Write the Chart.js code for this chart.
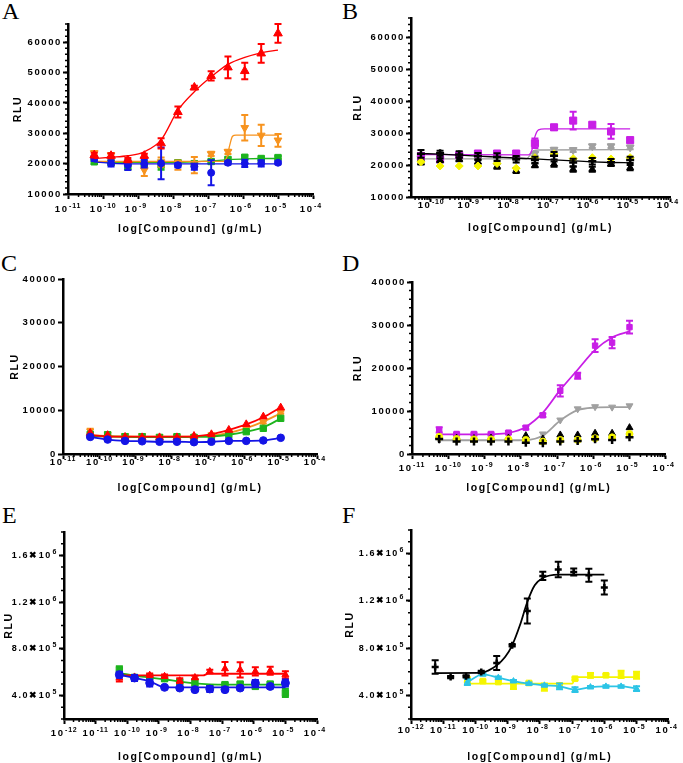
<!DOCTYPE html>
<html>
<head>
<meta charset="utf-8">
<script src="https://cdn.jsdelivr.net/npm/chart.js@4.4.1/dist/chart.umd.min.js"></script>
<style>
  body { margin: 0; background: #fff; width: 683px; height: 763px; position: relative; overflow: hidden; }
  canvas { position: absolute; }
  .letter { position: absolute; font-family: "Liberation Serif", "Times New Roman", serif; font-size: 24px; line-height: 24px; color: #000; }
</style>
</head>
<body>
<div class="letter" style="left:2px;top:-1px">A</div>
<div class="letter" style="left:342px;top:-1px">B</div>
<div class="letter" style="left:1px;top:251px">C</div>
<div class="letter" style="left:342px;top:251px">D</div>
<div class="letter" style="left:2px;top:503px">E</div>
<div class="letter" style="left:342px;top:503px">F</div>
<canvas id="cA" style="left:0;top:0"></canvas>
<canvas id="cB" style="left:340px;top:0"></canvas>
<canvas id="cC" style="left:0;top:250px"></canvas>
<canvas id="cD" style="left:340px;top:250px"></canvas>
<canvas id="cE" style="left:0;top:500px"></canvas>
<canvas id="cF" style="left:340px;top:500px"></canvas>
<script>
// log10 dose (g/mL), 3-fold dilutions
const dose = [-10.25, -9.77, -9.29, -8.82, -8.34, -7.86, -7.39, -6.91, -6.43, -5.95, -5.48, -5.0];
const doseF = [-11.25, -10.77, -10.29, -9.82, -9.34, -8.86, -8.39, -7.91, -7.43, -6.95, -6.48, -6.0];

// panel A
const aRed = [22800, 22600, 21200, 22600, 26700, 37000, 45100, 48900, 51700, 50500, 56300, 62900];
const aRedErr = [800, 800, 700, 700, 1700, 1800, 600, 1500, 3600, 2700, 3100, 3100];
const aRedFit = [21700, 22100, 22600, 23900, 27800, 37600, 43700, 48600, 52700, 55000, 56500, 57400];
const aOrange = [23500, 22800, 20200, 17900, 20500, 19500, 19500, 23200, 23900, 31800, 29300, 27700];
const aOrangeErr = [700, 700, 1000, 2000, 1500, 1500, 2700, 700, 700, 4200, 3500, 2100];
const aOrangeFitX = [-10.25, -6.55, -6.45, -6.38, -6.3, -6.2, -5.0];
const aOrangeFit = [20700, 20750, 22500, 26000, 29000, 29400, 29400];
const aGreen = [20600, 20300, 19000, 20000, 19500, 20300, 20000, 20700, 21400, 22100, 21700, 22000];
const aGreenErr = [700, 600, 900, 800, 1500, 700, 800, 600, 600, 600, 600, 500];
const aGreenFit = [20400, 20400, 20400, 20400, 20400, 20450, 20600, 20900, 21300, 21600, 21700, 21700];
const aBlue = [21700, 20100, 19500, 20000, 20100, 19500, 19000, 17000, 20300, 20100, 20100, 20300];
const aBlueErr = [800, 1000, 1600, 1300, 5200, 700, 1000, 4100, 600, 1200, 1000, 500];
const aBlueFit = [20600, 20100, 19950, 19900, 19900, 19900, 19900, 19900, 19900, 19900, 19900, 19900];

// panel B
const bMagenta = [22800, 21800, 23100, 23600, 23600, 23600, 26800, 31800, 33900, 32600, 30500, 27800];
const bMagentaErr = [1000, 700, 800, 800, 800, 700, 1500, 800, 2800, 600, 2300, 700];
const bMagentaFitX = [-10.25, -7.55, -7.47, -7.4, -7.3, -7.15, -5.0];
const bMagentaFit = [23300, 23200, 24500, 28500, 31000, 31300, 31300];
const bGray = [22000, 21800, 22200, 22000, 22300, 22100, 23500, 24800, 24700, 25900, 25900, 25500];
const bGrayErr = [600, 600, 600, 600, 600, 600, 600, 600, 600, 600, 600, 600];
const bGrayFitX = [-10.25, -7.6, -7.5, -7.42, -7.3, -5.0];
const bGrayFit = [21900, 21950, 23300, 24500, 24700, 24800];
const bBlackCross = [23500, 23700, 23300, 22800, 22500, 21800, 21600, 22900, 20800, 21200, 20900, 21600];
const bBlackCrossErr = [1200, 800, 1000, 1000, 1200, 1000, 1000, 1200, 1200, 1000, 1000, 1000];
const bBlackFit = [23600, 23400, 23100, 22800, 22500, 22200, 21900, 21600, 21300, 21000, 20800, 20700];
const bBlackTri = [20800, 21500, 21800, 21000, 19600, 18300, 19900, 20300, 18700, 18700, 20300, 19200];
const bBlackTriErr = [600, 600, 600, 600, 800, 800, 600, 800, 800, 800, 600, 800];
const bYellow = [21000, 19700, 19700, 19700, 20500, 19000, 22300, 23500, 22000, 22300, 21900, 22300];

// panel C
const cRed = [4800, 4300, 3900, 3800, 3800, 3800, 4110, 4500, 5490, 6780, 8530, 10600];
const cRedFit = [4300, 4000, 3950, 3950, 3950, 3950, 4050, 4500, 5500, 6750, 8400, 10650];
const cOrange = [5260, 4560, 4200, 4200, 3960, 3960, 3960, 4400, 4950, 5900, 7300, 9500];
const cOrangeErr = [500, 300, 300, 300, 200, 200, 200, 200, 200, 300, 300, 300];
const cOrangeFit = [4300, 4100, 4000, 3950, 3950, 3950, 4000, 4250, 4850, 5900, 7400, 9300];
const cGreen = [4500, 4400, 3960, 3960, 3800, 3960, 3800, 3960, 4420, 5100, 5870, 8150];
const cGreenFit = [4100, 4000, 3900, 3850, 3850, 3850, 3900, 4000, 4400, 5100, 6100, 8100];
const cBlue = [3900, 3300, 3000, 2900, 2800, 2800, 2700, 2800, 3000, 3000, 3100, 3700];

// panel D
const dMagenta = [5600, 4660, 4660, 4660, 4970, 6130, 9000, 14700, 18200, 25200, 25900, 29500];
const dMagentaErr = [600, 300, 300, 300, 300, 400, 400, 1300, 700, 1500, 1300, 1500];
const dMagentaFit = [4550, 4550, 4550, 4600, 4900, 6300, 9600, 14900, 19600, 24200, 27100, 28500];
const dGray = [3300, 3200, 3200, 3200, 3200, 3300, 4660, 7900, 10500, 11000, 10900, 11200];
const dGrayFit = [3200, 3200, 3200, 3200, 3200, 3250, 4300, 7800, 10200, 10800, 10900, 10900];
const dBlackTri = [4000, 3700, 3600, 3700, 3700, 4270, 3500, 4430, 4430, 4820, 4820, 6130];
const dYellow = [4000, 3500, 3400, 3400, 3400, 3260, 2880, 3260, 3260, 3650, 3880, 4660];
const dBlackCross = [3500, 2880, 2880, 2880, 2880, 2640, 2480, 2880, 3030, 3420, 3260, 3880];

// panel E
const eRed = [550000, 560000, 575000, 565000, 528000, 555000, 607000, 630000, 621000, 607000, 613000, 579000];
const eRedErr = [30000, 15000, 15000, 15000, 20000, 15000, 15000, 57000, 65000, 35000, 34000, 30000];
const eRedFitX = [-10.25, -7.6, -7.45, -5.0];
const eRedFit = [573000, 573000, 587000, 587000];
const eGreen = [621000, 556000, 560000, 545000, 517000, 510000, 466000, 494000, 499000, 479000, 499000, 423000];
const eGreenErr = [30000, 20000, 15000, 20000, 15000, 30000, 20000, 15000, 15000, 15000, 15000, 35000];
const eGreenFit = [593000, 570000, 555000, 540000, 520000, 505000, 497000, 494000, 494000, 494000, 494000, 494000];
const eBlue = [579000, 551000, 508000, 471000, 465000, 451000, 457000, 451000, 465000, 508000, 479000, 508000];
const eBlueErr = [25000, 25000, 30000, 10000, 10000, 10000, 25000, 10000, 10000, 25000, 15000, 30000];
const eBlueFit = [578000, 551000, 522000, 472000, 470000, 470000, 470000, 470000, 470000, 470000, 470000, 470000];

// panel F
const fBlack = [640000, 555000, 561000, 598000, 674000, 824000, 1115000, 1411000, 1465000, 1445000, 1417000, 1313000];
const fBlackErr = [57000, 10000, 10000, 10000, 60000, 10000, 106000, 35000, 66000, 30000, 56000, 60000];
const fBlackFitX = [-11.25, -9.82, -9.59, -9.34, -9.08, -8.86, -8.62, -8.39, -8.16, -7.91, -7.43, -6.0];
const fBlackFit = [589000, 590000, 612000, 654000, 725000, 824000, 993000, 1191000, 1332000, 1394000, 1423000, 1423000];
const fCyan = [513000, 578000, 550000, 521000, 499000, 485000, 476000, 448000, 470000, 476000, 476000, 457000];
const fCyanErr = [25000, 10000, 10000, 10000, 10000, 10000, 25000, 20000, 10000, 10000, 10000, 20000];
const fYellow = [533000, 521000, 513000, 485000, 505000, 470000, 485000, 541000, 570000, 570000, 578000, 570000];
const fYellowErr = [20000, 10000, 10000, 30000, 10000, 30000, 10000, 10000, 20000, 10000, 30000, 30000];
const fYellowFitX = [-10.25, -7.0, -6.9, -6.85, -5.0];
const fYellowFit = [499000, 499000, 548000, 555000, 555000];

const RED = '#ff0000', ORANGE = '#f7931e', GREEN = '#1db41d', BLUE = '#1414e6',
      MAGENTA = '#c81ee6', GRAY = '#a0a0a0', YELLOW = '#f5f500', CYAN = '#2cc4e6', BLACK = '#000000';

const FAMILY = "'Liberation Sans', Arial, sans-serif";
const TICK_FONT = { family: FAMILY, size: 9.5, weight: 'bold' };
const SCI_FONT = { family: FAMILY, size: 9, weight: 'bold' };
const TITLE_FONT = { family: FAMILY, size: 10.5, weight: 'bold' };
const SPACE = '1.6px';
const X_PAD = '\u2002\u2002';   // room left for the raised exponent
const Y_PAD = '\u2002';

function pts(xs, ys, errs, color, style, r, rot) {
  return {
    data: xs.map((x, i) => ({ x: x, y: ys[i] })),
    errors: errs,
    showLine: false,
    pointStyle: style,
    pointRadius: r,
    pointRotation: rot || 0,
    backgroundColor: color,
    borderColor: color,
    borderWidth: style === 'cross' ? 2.5 : 1
  };
}

function fit(xs, ys, color, w) {
  return {
    data: xs.map((x, i) => ({ x: x, y: ys[i] })),
    showLine: true,
    pointRadius: 0,
    borderColor: color,
    borderWidth: w || 1.5,
    cubicInterpolationMode: 'monotone',
    fill: false
  };
}

// vertical SEM bars, drawn right under their own dataset
const errorBars = {
  id: 'errorBars',
  beforeDatasetDraw(chart, args) {
    const ds = chart.data.datasets[args.index];
    if (!ds.errors) return;
    const ys = chart.scales.y, ctx = chart.ctx;
    ctx.save();
    ctx.strokeStyle = ds.borderColor;
    ctx.lineWidth = 2;
    args.meta.data.forEach((pt, i) => {
      const e = ds.errors[i];
      if (!e) return;
      const v = ds.data[i].y;
      const t = ys.getPixelForValue(v + e), b = ys.getPixelForValue(v - e);
      ctx.beginPath();
      ctx.moveTo(pt.x, t); ctx.lineTo(pt.x, b);
      ctx.moveTo(pt.x - 3.5, t); ctx.lineTo(pt.x + 3.5, t);
      ctx.moveTo(pt.x - 3.5, b); ctx.lineTo(pt.x + 3.5, b);
      ctx.stroke();
    });
    ctx.restore();
  }
};

// small ticks between decades and between y labels
const minorTicks = {
  id: 'minorTicks',
  afterDraw(chart, args, o) {
    const ctx = chart.ctx, xs = chart.scales.x, ys = chart.scales.y, area = chart.chartArea;
    ctx.save();
    ctx.strokeStyle = '#000';
    ctx.lineWidth = 1.5;
    ctx.beginPath();
    for (let n = Math.floor(xs.min); n < xs.max; n++) {
      for (let m = 2; m < 10; m++) {
        const v = n + Math.log10(m);
        if (v < xs.min || v > xs.max) continue;
        const px = xs.getPixelForValue(v);
        ctx.moveTo(px, area.bottom);
        ctx.lineTo(px, area.bottom + 3);
      }
    }
    if (o.yStep) {
      const count = Math.round((ys.max - ys.min) / o.yStep);
      for (let k = 0; k <= count; k++) {
        const py = ys.getPixelForValue(ys.min + k * o.yStep);
        ctx.moveTo(area.left, py);
        ctx.lineTo(area.left - 3, py);
      }
    }
    ctx.stroke();
    ctx.restore();
  }
};

// raised powers of ten next to the "10" of each tick label
const exponents = {
  id: 'exponents',
  afterDraw(chart, args, o) {
    const ctx = chart.ctx, area = chart.chartArea, xs = chart.scales.x, ys = chart.scales.y;
    const font = f => 'bold ' + f.size + 'px ' + FAMILY;
    ctx.save();
    ctx.fillStyle = '#000';
    ctx.textBaseline = 'middle';
    ctx.textAlign = 'left';
    const yc = area.bottom + 5 + o.xPad + TICK_FONT.size * 1.2 / 2;
    xs.ticks.forEach(t => {
      ctx.letterSpacing = SPACE;
      ctx.font = font(TICK_FONT);
      const wAll = ctx.measureText('10' + X_PAD).width;
      const w10 = ctx.measureText('10').width;
      const x0 = xs.getPixelForValue(t.value) - wAll / 2 + w10 + 0.5;
      ctx.letterSpacing = '0.8px';
      ctx.font = 'bold 7px ' + FAMILY;
      ctx.fillText(String(t.value), x0, yc - 3.5);
    });
    if (o.sci) {
      ys.ticks.forEach(t => {
        const e = Math.floor(Math.log10(t.value));
        ctx.letterSpacing = SPACE;
        ctx.font = font(SCI_FONT);
        const wPad = ctx.measureText(Y_PAD).width;
        const x0 = area.left - 6 - wPad + 0.5;
        ctx.letterSpacing = '0.8px';
        ctx.font = 'bold 7px ' + FAMILY;
        ctx.fillText(String(e), x0, ys.getPixelForValue(t.value) - 3.5);
      });
    }
    ctx.restore();
  }
};

const spacing = {
  id: 'spacing',
  beforeUpdate(chart) { chart.ctx.letterSpacing = SPACE; },
  beforeLayout(chart) { chart.ctx.letterSpacing = SPACE; },
  beforeDraw(chart) { chart.ctx.letterSpacing = SPACE; }
};

function makePanel(p) {
  const cv = document.getElementById(p.id);
  cv.width = p.box.w;
  cv.height = p.box.h;
  const lh = TITLE_FONT.size * 1.2;
  const padL = p.rluX - p.box.x - lh / 2;
  const plotL = p.plot.l - p.box.x, plotR = p.plot.r - p.box.x;
  const plotT = p.plot.t - p.box.y, plotB = p.plot.b - p.box.y;
  const titleBottom = p.box.h - (p.xTitleY - p.box.y) - lh / 2;
  const axisGrid = { display: true, drawOnChartArea: false, drawTicks: true, tickLength: 5, tickWidth: 2, tickColor: '#000' };
  const axisBorder = { display: true, color: '#000', width: 2.5 };
  return new Chart(cv, {
    type: 'scatter',
    data: { datasets: p.datasets },
    options: {
      responsive: false,
      animation: false,
      events: [],
      layout: { padding: { left: padL, right: p.box.w - plotR, top: plotT, bottom: 0 } },
      plugins: {
        legend: { display: false },
        tooltip: { enabled: false },
        minorTicks: { yStep: p.yMinor },
        exponents: { xPad: p.xPad, sci: !!p.sci }
      },
      scales: {
        x: {
          type: 'linear', min: p.xMin, max: p.xMax,
          afterFit: s => { s.height = p.box.h - plotB; },
          afterBuildTicks: s => {
            const t = [];
            for (let n = Math.ceil(p.xMin); n <= p.xMax; n++) t.push({ value: n });
            s.ticks = t;
          },
          ticks: { autoSkip: false, maxRotation: 0, padding: p.xPad, color: '#000', font: TICK_FONT,
                   callback: () => '10' + X_PAD },
          grid: axisGrid,
          border: axisBorder,
          title: { display: true, text: 'log[Compound] (g/mL)', color: '#000', font: TITLE_FONT,
                   padding: { top: 0, bottom: titleBottom } }
        },
        y: {
          type: 'linear', min: p.yMin, max: p.yMax,
          afterFit: s => { s.width = plotL - padL; },
          afterBuildTicks: s => { s.ticks = p.yTicks.map(v => ({ value: v })); },
          ticks: { autoSkip: false, padding: 1, color: '#000', font: p.sci ? SCI_FONT : TICK_FONT, callback: p.yFmt },
          grid: axisGrid,
          border: axisBorder,
          title: { display: true, text: 'RLU', color: '#000', font: TITLE_FONT, padding: { top: 0, bottom: 0 } }
        }
      }
    },
    plugins: [spacing, errorBars, minorTicks, exponents]
  });
}

const plainFmt = v => String(v);
const sciFmt = v => {
  const e = Math.floor(Math.log10(v));
  return (v / Math.pow(10, e)).toFixed(1) + '\u2716' + '10' + Y_PAD;
};

makePanel({
  id: 'cA', box: { x: 0, y: 0, w: 340, h: 250 }, plot: { l: 68, r: 313, t: 24, b: 194 },
  rluX: 18, xTitleY: 229, xPad: 5, xMin: -11, xMax: -4,
  yMin: 10000, yMax: 66000, yTicks: [10000, 20000, 30000, 40000, 50000, 60000], yMinor: 2000, yFmt: plainFmt,
  datasets: [
    pts(dose, aRed, aRedErr, RED, 'triangle', 5),
    fit(dose, aRedFit, RED, 1.3),
    pts(dose, aBlue, aBlueErr, BLUE, 'circle', 3.5),
    fit(dose, aBlueFit, BLUE, 1.3),
    pts(dose, aOrange, aOrangeErr, ORANGE, 'triangle', 4.5, 180),
    fit(aOrangeFitX, aOrangeFit, ORANGE, 1.3),
    pts(dose, aGreen, aGreenErr, GREEN, 'rect', 4.5),
    fit(dose, aGreenFit, GREEN, 1.3)
  ]
});

makePanel({
  id: 'cB', box: { x: 340, y: 0, w: 343, h: 250 }, plot: { l: 411, r: 670, t: 18, b: 197 },
  rluX: 358, xTitleY: 228, xPad: -2, xMin: -10.5, xMax: -4,
  yMin: 10000, yMax: 66000, yTicks: [10000, 20000, 30000, 40000, 50000, 60000], yMinor: 2000, yFmt: plainFmt,
  datasets: [
    pts(dose, bBlackCross, bBlackCrossErr, BLACK, 'cross', 4),
    fit(dose, bBlackFit, BLACK, 1.3),
    pts(dose, bYellow, null, YELLOW, 'rectRot', 4),
    pts(dose, bBlackTri, bBlackTriErr, BLACK, 'triangle', 4),
    pts(dose, bMagenta, bMagentaErr, MAGENTA, 'rect', 5),
    fit(bMagentaFitX, bMagentaFit, MAGENTA, 1.3),
    pts(dose, bGray, bGrayErr, GRAY, 'triangle', 4.5, 180),
    fit(bGrayFitX, bGrayFit, GRAY, 1.3)
  ]
});

makePanel({
  id: 'cC', box: { x: 0, y: 250, w: 340, h: 250 }, plot: { l: 63, r: 317, t: 279, b: 454 },
  rluX: 15, xTitleY: 488, xPad: -2, xMin: -11, xMax: -4,
  yMin: 0, yMax: 40000, yTicks: [0, 10000, 20000, 30000, 40000], yMinor: 0, yFmt: plainFmt,
  datasets: [
    pts(dose, cBlue, null, BLUE, 'circle', 3.8),
    fit(dose, cBlue, BLUE, 1.8),
    pts(dose, cRed, null, RED, 'triangle', 4.5),
    fit(dose, cRedFit, RED, 1.8),
    pts(dose, cGreen, null, GREEN, 'rect', 4.5),
    fit(dose, cGreenFit, GREEN, 1.8),
    pts(dose, cOrange, cOrangeErr, ORANGE, 'triangle', 4, 180),
    fit(dose, cOrangeFit, ORANGE, 1.8)
  ]
});

makePanel({
  id: 'cD', box: { x: 340, y: 250, w: 343, h: 250 }, plot: { l: 412, r: 668, t: 282, b: 454 },
  rluX: 358, xTitleY: 488, xPad: 4, xMin: -11, xMax: -4,
  yMin: 0, yMax: 40000, yTicks: [0, 10000, 20000, 30000, 40000], yMinor: 2000, yFmt: plainFmt,
  datasets: [
    pts(dose, dBlackCross, null, BLACK, 'cross', 4),
    pts(dose, dYellow, null, YELLOW, 'circle', 3.5),
    pts(dose, dBlackTri, null, BLACK, 'triangle', 4),
    pts(dose, dMagenta, dMagentaErr, MAGENTA, 'rect', 3.8),
    fit(dose, dMagentaFit, MAGENTA, 1.8),
    pts(dose, dGray, null, GRAY, 'triangle', 4, 180),
    fit(dose, dGrayFit, GRAY, 1.8)
  ]
});

makePanel({
  id: 'cE', box: { x: 0, y: 500, w: 340, h: 263 }, plot: { l: 64, r: 317, t: 532, b: 719 },
  rluX: 9, xTitleY: 757, xPad: 4, xMin: -12, xMax: -4,
  yMin: 200000, yMax: 1800000, yTicks: [400000, 800000, 1200000, 1600000], yMinor: 100000,
  yFmt: sciFmt, sci: true,
  datasets: [
    pts(dose, eBlue, eBlueErr, BLUE, 'circle', 4),
    fit(dose, eBlueFit, BLUE, 1.8),
    pts(dose, eRed, eRedErr, RED, 'triangle', 4),
    fit(eRedFitX, eRedFit, RED, 1.8),
    pts(dose, eGreen, eGreenErr, GREEN, 'rect', 4.5),
    fit(dose, eGreenFit, GREEN, 1.8)
  ]
});

makePanel({
  id: 'cF', box: { x: 340, y: 500, w: 343, h: 263 }, plot: { l: 411, r: 673, t: 530, b: 719 },
  rluX: 350, xTitleY: 757, xPad: 1, xMin: -12, xMax: -4,
  yMin: 200000, yMax: 1800000, yTicks: [400000, 800000, 1200000, 1600000], yMinor: 100000,
  yFmt: sciFmt, sci: true,
  datasets: [
    pts(doseF, fBlack, fBlackErr, BLACK, 'cross', 3.5),
    fit(fBlackFitX, fBlackFit, BLACK, 1.8),
    pts(dose, fCyan, fCyanErr, CYAN, 'triangle', 3.5),
    fit(dose, fCyan, CYAN, 1.8),
    pts(dose, fYellow, fYellowErr, YELLOW, 'rect', 4),
    fit(fYellowFitX, fYellowFit, YELLOW, 1.8)
  ]
});
</script>
</body>
</html>
